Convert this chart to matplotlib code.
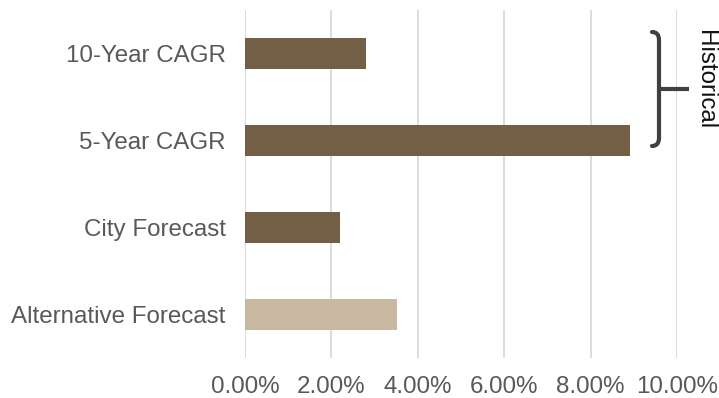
import matplotlib.pyplot as plt
from matplotlib.path import Path
from matplotlib.patches import PathPatch
from matplotlib.ticker import PercentFormatter

categories = ["10-Year CAGR", "5-Year CAGR", "City Forecast", "Alternative Forecast"]
values = [0.0280, 0.0891, 0.0220, 0.0352]
colors = ["#725F45", "#725F45", "#725F45", "#C8B8A2"]
xticks = [0, 0.02, 0.04, 0.06, 0.08, 0.10]

W, H = 719, 398
plt.rcParams['font.family'] = ['Liberation Sans', 'DejaVu Sans']

fig = plt.figure(figsize=(W / 100, H / 100), dpi=100)
ax = fig.add_axes([245 / W, 1 - 358 / H, (677 - 245) / W, (358 - 10) / H])

ypos = list(range(len(categories)))
ax.barh(ypos, values, height=0.35, color=colors, zorder=3)
ax.set_ylim(len(categories) - 0.5, -0.5)
ax.set_yticks(ypos)
ax.set_yticklabels(categories)
ax.set_xlim(0, 0.10)
ax.set_xticks(xticks)
ax.xaxis.set_major_formatter(PercentFormatter(1.0, decimals=2))
ax.grid(axis='x', color='#D9D9D9', lw=1.3, zorder=0)
for s in ax.spines.values():
    s.set_visible(False)
ax.tick_params(axis='both', length=0, labelsize=17.4, labelcolor='#595959')
ax.tick_params(axis='y', pad=14)
ax.tick_params(axis='x', pad=13)


# bracket, in pixel coords (y down)
def px(x, y):
    return (x / W, 1 - y / H)


verts = [px(652, 32), px(659, 32), px(659, 40), px(659, 138), px(659, 146), px(652, 146)]
codes = [Path.MOVETO, Path.CURVE3, Path.CURVE3, Path.LINETO, Path.CURVE3, Path.CURVE3]
fig.patches.append(PathPatch(Path(verts, codes), transform=fig.transFigure, fill=False,
                             edgecolor='#404040', lw=3, capstyle='round', joinstyle='round'))
fig.add_artist(plt.Line2D([659 / W, 689 / W], [1 - 89 / H, 1 - 89 / H], transform=fig.transFigure,
                          color='#404040', lw=3, solid_capstyle='butt'))
fig.text(705 / W, 1 - 80 / H, "Historical", rotation=-90, ha='center', va='center',
         fontsize=17.4, color='#111111')

fig.savefig("out.png", dpi=100)
